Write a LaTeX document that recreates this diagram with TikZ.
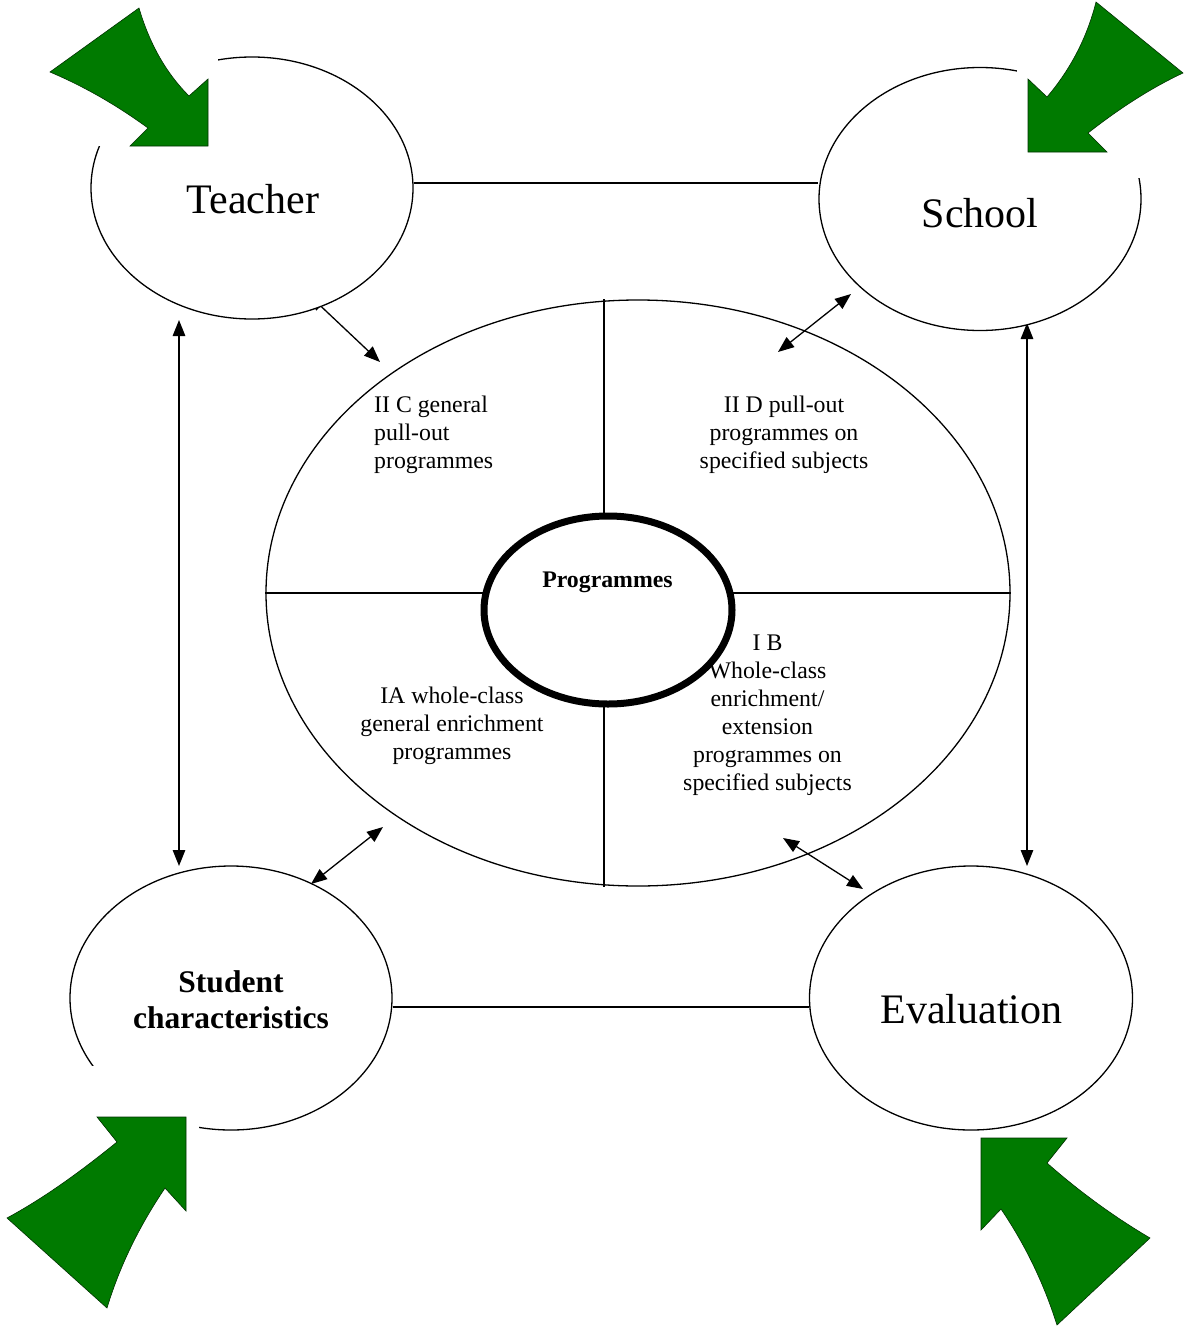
\documentclass[tikz,border=0pt]{standalone}
\usepackage{fontspec}
\setmainfont{Liberation Serif}
\usetikzlibrary{shapes.geometric,arrows.meta}
\definecolor{leafgreen}{RGB}{0,122,0}
\newcommand{\ctrstack}[1]{\begin{tabular}[t]{@{}c@{}}#1\end{tabular}}
\newcommand{\lftstack}[1]{\begin{tabular}[t]{@{}l@{}}#1\end{tabular}}

\begin{document}
\begin{tikzpicture}[x=1pt,y=-1pt,
  thinline/.style={line width=1.3pt},
  actor/.style={ellipse, draw, line width=1.3pt, fill=white, inner sep=0pt},
  link/.style={line width=1.3pt, {Triangle[length=16pt,width=12.5pt]}-{Triangle[length=16pt,width=12.5pt]}},
  bigtext/.style={font=\fontsize{42}{48}\selectfont, anchor=base, inner sep=0pt},
  boldtext/.style={font=\bfseries\fontsize{31.5}{36}\selectfont, anchor=base, inner sep=0pt},
  quadtext/.style={font=\fontsize{23.8}{28}\selectfont, anchor=base, inner sep=0pt},
  bigarrow/.style={fill=leafgreen, draw=black!60!leafgreen, line width=0.6pt, line join=miter},
  whitepatch/.style={fill=white, draw=none}]

\useasboundingbox (0,0) rectangle (1187,1330);

% outer programme ellipse and its four quadrants
\node[ellipse, draw, thinline, inner sep=0pt, minimum width=744pt, minimum height=586pt] (prog) at (638,593) {};
\node[ellipse, inner sep=0pt, minimum width=248pt, minimum height=188pt] (core) at (608,610) {};
\coordinate (qv) at (604,0);
\draw[thinline] (prog.north -| qv) -- (core.north -| qv);
\draw[thinline] (core.south -| qv) -- (prog.south -| qv);
\draw[thinline] (prog.west) -- (core.west |- prog.west);
\draw[thinline] (core.east |- prog.east) -- (prog.east);

% quadrant captions
\node[quadtext, anchor=base west] (q2c) at (374,412) {\lftstack{II C general\\pull-out\\programmes}};
\node[quadtext] (q2d) at (784,412) {\ctrstack{II D pull-out\\programmes on\\specified subjects}};
\node[quadtext] (q1a) at (452,703) {\ctrstack{IA whole-class\\general enrichment\\programmes}};
\node[quadtext] (q1b) at (767.5,650) {\ctrstack{I B\\Whole-class\\enrichment/\\extension\\programmes on\\specified subjects}};

% central ring
\draw[line width=7pt] (core.center) ellipse [x radius=124, y radius=94];
\node[font=\bfseries\fontsize{23.8}{28}\selectfont, anchor=base, inner sep=0pt] (progtext) at (607.5,587) {Programmes};

% connectors
\coordinate (tbA) at (309,295);
\coordinate (tbB) at (380,362);
\coordinate (sbA) at (851,294);
\coordinate (sbB) at (778,352);
\coordinate (stA) at (311,884);
\coordinate (stB) at (383,827);
\coordinate (evA) at (863,889);
\coordinate (evB) at (783,838);
\coordinate (lvA) at (179,320);
\coordinate (lvB) at (179,866);
\coordinate (rvA) at (1027,323);
\coordinate (rvB) at (1027,866);
\draw[link] (tbA) -- (tbB);
\draw[link] (sbA) -- (sbB);
\draw[link] (stA) -- (stB);
\draw[link] (evA) -- (evB);
\draw[link] (lvA) -- (lvB);
\draw[link] (rvA) -- (rvB);

% the four surrounding factors
\node[actor, minimum width=322pt, minimum height=262pt] (teacher) at (252,188) {};
\node[actor, minimum width=322pt, minimum height=263pt] (school) at (980,199) {};
\node[actor, minimum width=322pt, minimum height=264pt] (student) at (231,998) {};
\node[actor, minimum width=323pt, minimum height=264pt] (evaluation) at (971,998) {};

\coordinate (toprow) at (0,183);
\coordinate (botrow) at (0,1007);
\draw[thinline] (teacher.east |- toprow) -- (school.west |- toprow);
\draw[thinline] (student.east |- botrow) -- (evaluation.west |- botrow);

% white backgrounds of the green arrows
\fill[whitepatch] (30,0) rectangle (218,146);
\fill[whitepatch] (1017,0) rectangle (1187,178);
\fill[whitepatch] (0,1066) rectangle (199,1330);

% green curved arrows
\path[bigarrow] (139,8) -- (50,72) .. controls (83,86) and (115,104) .. (148,128)
  -- (130,146) -- (208,146) -- (208,79) -- (189,96)
  .. controls (165,72) and (149,42) .. (139,8) -- cycle;
\path[bigarrow] (1096,2) -- (1183,73) .. controls (1151,88) and (1120,108) .. (1088,133)
  -- (1107,152) -- (1028,152) -- (1028,79) -- (1047,97)
  .. controls (1070,70) and (1087,38) .. (1096,2) -- cycle;
\path[bigarrow] (107,1308) -- (7,1218) .. controls (44,1198) and (80,1172) .. (117,1142)
  -- (97,1117) -- (186,1117) -- (186,1211) -- (165,1188)
  .. controls (140,1225) and (120,1265) .. (107,1308) -- cycle;
\path[bigarrow] (1057,1325) -- (1150,1238) .. controls (1116,1218) and (1081,1193) .. (1047,1163)
  -- (1067,1138) -- (981,1138) -- (981,1230) -- (1001,1209)
  .. controls (1026,1246) and (1044,1284) .. (1057,1325) -- cycle;

% factor names
\node[bigtext] (teachertext) at (253,213) {Teacher};
\node[bigtext] (schooltext) at (980,227) {School};
\node[bigtext] (evaluationtext) at (971.5,1023) {Evaluation};
\node[boldtext] (studenttext) at (231,992) {\ctrstack{Student\\characteristics}};

\end{tikzpicture}
\end{document}
